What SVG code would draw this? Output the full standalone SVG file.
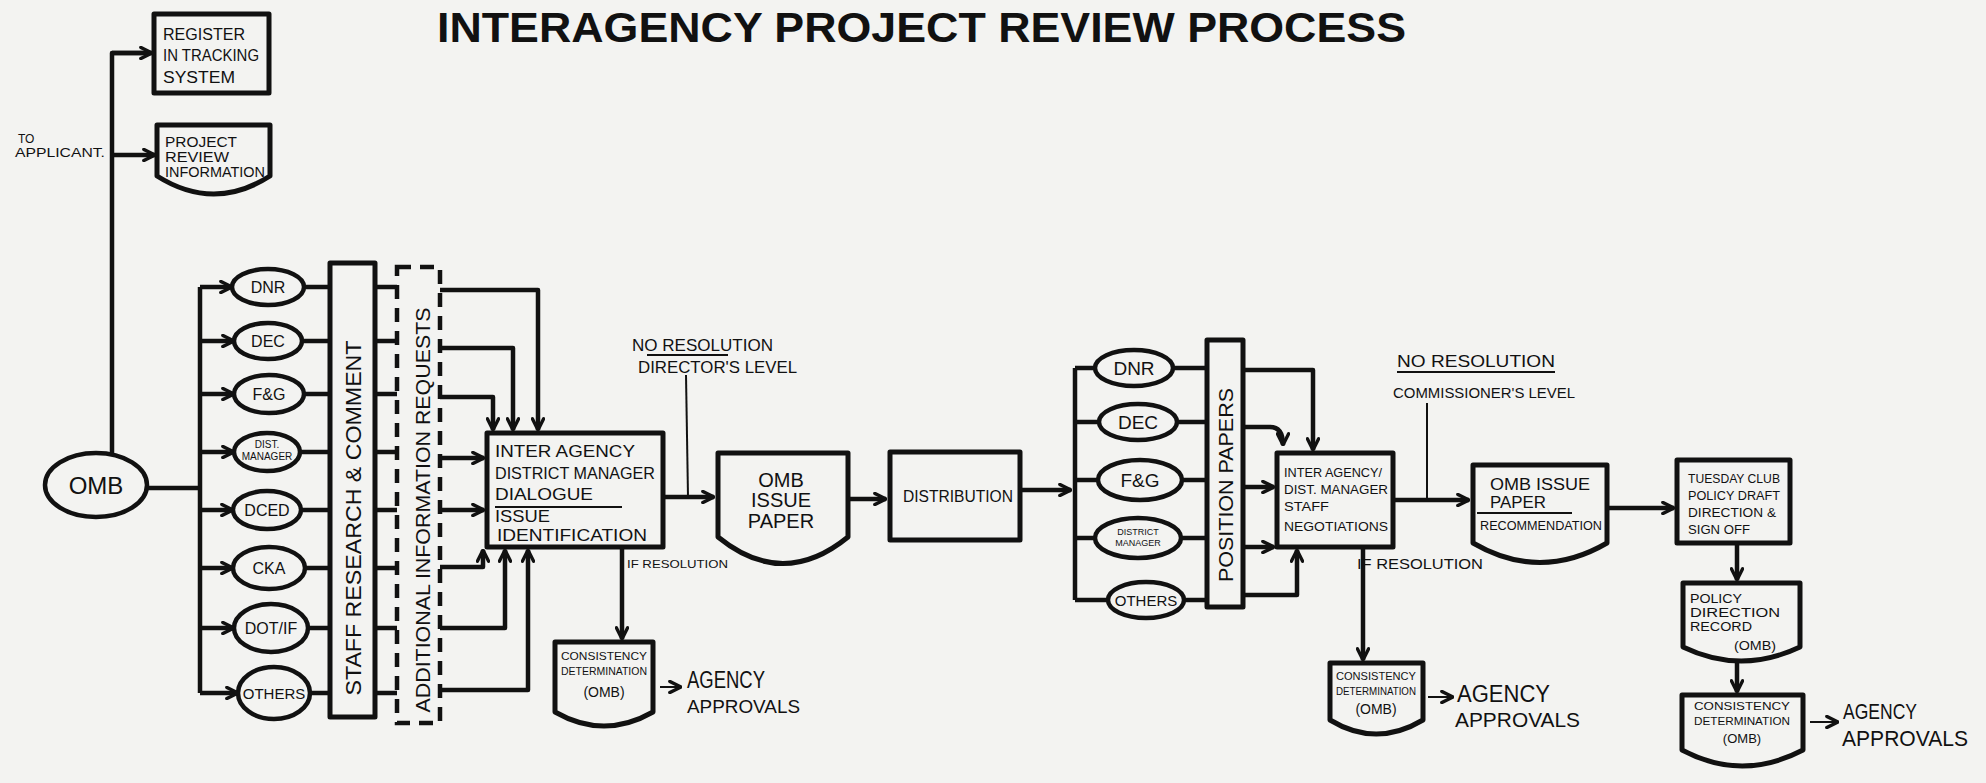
<svg xmlns="http://www.w3.org/2000/svg" width="1986" height="783" viewBox="0 0 1986 783">
<defs>
<marker id="ah" viewBox="0 0 10 10" refX="9" refY="5" markerWidth="14" markerHeight="14" markerUnits="userSpaceOnUse" orient="auto">
<path d="M1,1 L9,5 L1,9" fill="none" stroke="#111" stroke-width="2.4" stroke-linejoin="round" stroke-linecap="round"/>
</marker>
</defs>
<style>
.n{fill:none;stroke:#111;stroke-width:5;stroke-linejoin:round}
.e{fill:none;stroke:#111;stroke-width:4.5}
.d{fill:none;stroke:#111;stroke-width:4.5;stroke-dasharray:14 9}
.c{fill:none;stroke:#111;stroke-width:4.5;stroke-linejoin:round}
.a{marker-end:url(#ah)}
.t{fill:none;stroke:#111;stroke-width:2}
text{font-family:"Liberation Sans",Arial,sans-serif;fill:#111}
.m{text-anchor:middle}
</style>
<rect width="1986" height="783" fill="#f3f3f1"/>

<g id="title">
<text x="437" y="42" font-size="42" font-weight="bold" textLength="969" lengthAdjust="spacingAndGlyphs">INTERAGENCY  PROJECT  REVIEW  PROCESS</text>
</g>

<g id="to-applicant">
<text x="18" y="143" font-size="12">TO</text>
<text x="15" y="157" font-size="12" textLength="90" lengthAdjust="spacingAndGlyphs">APPLICANT.</text>
</g>

<g id="register">
<rect class="n" x="154" y="14" width="115" height="79"/>
<text x="163" y="40" font-size="16" textLength="82" lengthAdjust="spacingAndGlyphs">REGISTER</text>
<text x="163" y="61" font-size="16" textLength="96" lengthAdjust="spacingAndGlyphs">IN TRACKING</text>
<text x="163" y="83" font-size="16" textLength="72" lengthAdjust="spacingAndGlyphs">SYSTEM</text>
</g>

<g id="project-review">
<path class="n" d="M157,125 H270 V176 Q214,212 157,176 Z"/>
<text x="165" y="147" font-size="15" textLength="72" lengthAdjust="spacingAndGlyphs">PROJECT</text>
<text x="165" y="162" font-size="15" textLength="64" lengthAdjust="spacingAndGlyphs">REVIEW</text>
<text x="165" y="177" font-size="15" textLength="100" lengthAdjust="spacingAndGlyphs">INFORMATION</text>
</g>

<g id="omb">
<ellipse class="e" cx="96" cy="485" rx="51" ry="32"/>
<text class="m" x="96" y="494" font-size="24">OMB</text>
</g>

<g id="a1-dnr"><ellipse class="e" cx="268" cy="287" rx="36" ry="18"/><text class="m" x="268" y="293" font-size="16">DNR</text></g>
<g id="a1-dec"><ellipse class="e" cx="268" cy="341" rx="34" ry="18"/><text class="m" x="268" y="347" font-size="16">DEC</text></g>
<g id="a1-fg"><ellipse class="e" cx="269" cy="394" rx="35" ry="19"/><text class="m" x="269" y="400" font-size="16">F&amp;G</text></g>
<g id="a1-dist"><ellipse class="e" cx="267" cy="452" rx="33" ry="19"/><text class="m" x="267" y="448" font-size="10">DIST.</text><text class="m" x="267" y="460" font-size="10">MANAGER</text></g>
<g id="a1-dced"><ellipse class="e" cx="267" cy="510" rx="34" ry="19"/><text class="m" x="267" y="516" font-size="16">DCED</text></g>
<g id="a1-cka"><ellipse class="e" cx="269" cy="568" rx="36" ry="21"/><text class="m" x="269" y="574" font-size="16">CKA</text></g>
<g id="a1-dot"><ellipse class="e" cx="271" cy="628" rx="37" ry="24"/><text class="m" x="271" y="634" font-size="16">DOT/IF</text></g>
<g id="a1-others"><ellipse class="e" cx="274" cy="693" rx="36" ry="26"/><text class="m" x="274" y="699" font-size="15">OTHERS</text></g>

<g id="staff-research">
<rect class="n" x="330" y="263" width="45" height="454"/>
<text class="m" transform="translate(361,518) rotate(-90)" font-size="22" textLength="355" lengthAdjust="spacingAndGlyphs">STAFF RESEARCH &amp; COMMENT</text>
</g>

<g id="info-requests">
<rect class="d" x="397" y="267" width="43" height="456"/>
<text class="m" transform="translate(430,510) rotate(-90)" font-size="20" textLength="405" lengthAdjust="spacingAndGlyphs">ADDITIONAL  INFORMATION  REQUESTS</text>
</g>

<g id="dialogue">
<rect class="n" x="487" y="433" width="176" height="114"/>
<text x="495" y="457" font-size="17" textLength="140" lengthAdjust="spacingAndGlyphs">INTER AGENCY</text>
<text x="495" y="479" font-size="17" textLength="160" lengthAdjust="spacingAndGlyphs">DISTRICT MANAGER</text>
<text x="495" y="500" font-size="17" textLength="98" lengthAdjust="spacingAndGlyphs">DIALOGUE</text>
<path class="t" d="M495,507 H622"/>
<text x="495" y="522" font-size="17" textLength="55" lengthAdjust="spacingAndGlyphs">ISSUE</text>
<text x="497" y="541" font-size="17" textLength="150" lengthAdjust="spacingAndGlyphs">IDENTIFICATION</text>
</g>

<g id="no-res-1">
<text x="632" y="351" font-size="17" textLength="141" lengthAdjust="spacingAndGlyphs">NO RESOLUTION</text>
<path class="t" d="M647,355 H728"/>
<text x="638" y="373" font-size="17" textLength="159" lengthAdjust="spacingAndGlyphs">DIRECTOR'S LEVEL</text>
</g>

<g id="omb-paper-1">
<path class="n" d="M718,453 H848 V537 Q783,590 718,537 Z"/>
<text class="m" x="781" y="487" font-size="20">OMB</text>
<text class="m" x="781" y="507" font-size="20">ISSUE</text>
<text class="m" x="781" y="528" font-size="20">PAPER</text>
</g>

<g id="distribution">
<rect class="n" x="890" y="452" width="130" height="88"/>
<text x="903" y="502" font-size="16" textLength="110" lengthAdjust="spacingAndGlyphs">DISTRIBUTION</text>
</g>

<g id="if-res-1">
<text x="627" y="568" font-size="11" textLength="101" lengthAdjust="spacingAndGlyphs">IF RESOLUTION</text>
</g>

<g id="consistency-1">
<path class="n" d="M555,642 H653 V712 Q604,740 555,712 Z"/>
<text class="m" x="604" y="660" font-size="11" textLength="86" lengthAdjust="spacingAndGlyphs">CONSISTENCY</text>
<text class="m" x="604" y="675" font-size="11" textLength="86" lengthAdjust="spacingAndGlyphs">DETERMINATION</text>
<text class="m" x="604" y="697" font-size="14">(OMB)</text>
</g>
<g id="approvals-1">
<text x="687" y="688" font-size="23" textLength="78" lengthAdjust="spacingAndGlyphs">AGENCY</text>
<text x="687" y="713" font-size="18" textLength="113" lengthAdjust="spacingAndGlyphs">APPROVALS</text>
</g>

<g id="a2-dnr"><ellipse class="e" cx="1134" cy="368" rx="39" ry="18"/><text class="m" x="1134" y="375" font-size="19">DNR</text></g>
<g id="a2-dec"><ellipse class="e" cx="1138" cy="422" rx="39" ry="18"/><text class="m" x="1138" y="429" font-size="19">DEC</text></g>
<g id="a2-fg"><ellipse class="e" cx="1140" cy="480" rx="42" ry="20"/><text class="m" x="1140" y="487" font-size="19">F&amp;G</text></g>
<g id="a2-dist"><ellipse class="e" cx="1138" cy="538" rx="43" ry="20"/><text class="m" x="1138" y="535" font-size="9">DISTRICT</text><text class="m" x="1138" y="546" font-size="9">MANAGER</text></g>
<g id="a2-others"><ellipse class="e" cx="1146" cy="600" rx="38" ry="18"/><text class="m" x="1146" y="606" font-size="15">OTHERS</text></g>

<g id="position-papers">
<rect class="n" x="1207" y="340" width="36" height="267"/>
<text class="m" transform="translate(1233,485) rotate(-90)" font-size="20" textLength="194" lengthAdjust="spacingAndGlyphs">POSITION  PAPERS</text>
</g>

<g id="negotiations">
<rect class="n" x="1277" y="453" width="116" height="94"/>
<text x="1284" y="477" font-size="13" textLength="98" lengthAdjust="spacingAndGlyphs">INTER AGENCY/</text>
<text x="1284" y="494" font-size="13" textLength="104" lengthAdjust="spacingAndGlyphs">DIST. MANAGER</text>
<text x="1284" y="511" font-size="13" textLength="45" lengthAdjust="spacingAndGlyphs">STAFF</text>
<text x="1284" y="531" font-size="13" textLength="104" lengthAdjust="spacingAndGlyphs">NEGOTIATIONS</text>
</g>

<g id="no-res-2">
<text x="1397" y="367" font-size="17" textLength="158" lengthAdjust="spacingAndGlyphs">NO RESOLUTION</text>
<path class="t" d="M1397,372 H1555"/>
<text x="1393" y="398" font-size="15" textLength="182" lengthAdjust="spacingAndGlyphs">COMMISSIONER'S LEVEL</text>
</g>

<g id="if-res-2">
<text x="1357" y="569" font-size="14" textLength="126" lengthAdjust="spacingAndGlyphs">IF RESOLUTION</text>
</g>

<g id="consistency-2">
<path class="n" d="M1330,663 H1423 V720 Q1376,748 1330,720 Z"/>
<text class="m" x="1376" y="680" font-size="11" textLength="80" lengthAdjust="spacingAndGlyphs">CONSISTENCY</text>
<text class="m" x="1376" y="695" font-size="11" textLength="80" lengthAdjust="spacingAndGlyphs">DETERMINATION</text>
<text class="m" x="1376" y="714" font-size="14">(OMB)</text>
</g>
<g id="approvals-2">
<text x="1457" y="702" font-size="23" textLength="93" lengthAdjust="spacingAndGlyphs">AGENCY</text>
<text x="1455" y="727" font-size="20" textLength="125" lengthAdjust="spacingAndGlyphs">APPROVALS</text>
</g>

<g id="omb-paper-2">
<path class="n" d="M1473,465 H1607 V543 Q1540,582 1473,543 Z"/>
<text x="1490" y="490" font-size="16" textLength="100" lengthAdjust="spacingAndGlyphs">OMB ISSUE</text>
<text x="1490" y="508" font-size="16" textLength="56" lengthAdjust="spacingAndGlyphs">PAPER</text>
<path class="t" d="M1477,513 H1572"/>
<text x="1480" y="530" font-size="12" textLength="122" lengthAdjust="spacingAndGlyphs">RECOMMENDATION</text>
</g>

<g id="tuesday-club">
<rect class="n" x="1677" y="460" width="113" height="83"/>
<text x="1688" y="483" font-size="12" textLength="92" lengthAdjust="spacingAndGlyphs">TUESDAY CLUB</text>
<text x="1688" y="500" font-size="12" textLength="92" lengthAdjust="spacingAndGlyphs">POLICY DRAFT</text>
<text x="1688" y="517" font-size="12" textLength="88" lengthAdjust="spacingAndGlyphs">DIRECTION &amp;</text>
<text x="1688" y="534" font-size="12" textLength="62" lengthAdjust="spacingAndGlyphs">SIGN OFF</text>
</g>

<g id="policy-record">
<path class="n" d="M1683,583 H1800 V647 Q1741,675 1683,647 Z"/>
<text x="1690" y="603" font-size="12" textLength="52" lengthAdjust="spacingAndGlyphs">POLICY</text>
<text x="1690" y="617" font-size="12" textLength="90" lengthAdjust="spacingAndGlyphs">DIRECTION</text>
<text x="1690" y="631" font-size="12" textLength="62" lengthAdjust="spacingAndGlyphs">RECORD</text>
<text x="1734" y="650" font-size="12" textLength="42" lengthAdjust="spacingAndGlyphs">(OMB)</text>
</g>

<g id="consistency-3">
<path class="n" d="M1682,695 H1803 V750 Q1742,782 1682,750 Z"/>
<text class="m" x="1742" y="710" font-size="11" textLength="96" lengthAdjust="spacingAndGlyphs">CONSISTENCY</text>
<text class="m" x="1742" y="725" font-size="11" textLength="96" lengthAdjust="spacingAndGlyphs">DETERMINATION</text>
<text class="m" x="1742" y="743" font-size="13">(OMB)</text>
</g>
<g id="approvals-3">
<text x="1843" y="719" font-size="22" textLength="74" lengthAdjust="spacingAndGlyphs">AGENCY</text>
<text x="1842" y="746" font-size="22" textLength="126" lengthAdjust="spacingAndGlyphs">APPROVALS</text>
</g>

<g id="connectors">
<path class="c" d="M112,455 V53 H150"/>
<path class="c a" d="M112,53 H152"/>
<path class="c a" d="M112,155 H155"/>
<path class="c" d="M147,488 H200"/>
<path class="c" d="M200,287 V693"/>
<path class="c a" d="M200,287 H232"/>
<path class="c a" d="M200,341 H234"/>
<path class="c a" d="M200,394 H234"/>
<path class="c a" d="M200,452 H234"/>
<path class="c a" d="M200,510 H233"/>
<path class="c a" d="M200,568 H233"/>
<path class="c a" d="M200,628 H234"/>
<path class="c a" d="M200,693 H238"/>
<path class="c" d="M304,287 H330 M302,341 H330 M304,394 H330 M300,452 H330 M301,510 H330 M305,568 H330 M308,628 H330 M310,693 H330"/>
<path class="c" d="M375,287 H397 M375,341 H397 M375,394 H397 M375,452 H397 M375,510 H397 M375,568 H397 M375,628 H397 M375,693 H397"/>
<path class="c a" d="M440,290 H538 V430"/>
<path class="c a" d="M440,348 H513 V430"/>
<path class="c a" d="M440,397 H493 V430"/>
<path class="c a" d="M440,458 H484"/>
<path class="c a" d="M440,510 H484"/>
<path class="c a" d="M440,567 H483 V550"/>
<path class="c a" d="M440,628 H505 V550"/>
<path class="c a" d="M440,690 H528 V550"/>
<path class="c a" d="M663,497 H714"/>
<path class="t" d="M686,375 L688,497"/>
<path class="c a" d="M622,547 V639"/>
<path class="t a" d="M660,687 H681"/>
<path class="c a" d="M848,499 H886"/>
<path class="c a" d="M1020,490 H1071"/>
<path class="c" d="M1075,368 V600"/>
<path class="c" d="M1075,368 H1095 M1075,422 H1099 M1075,480 H1098 M1075,538 H1095 M1075,600 H1108"/>
<path class="c" d="M1173,368 H1207 M1177,422 H1207 M1182,480 H1207 M1181,538 H1207 M1184,600 H1207"/>
<path class="c a" d="M1243,370 H1313 V450"/>
<path class="c a" d="M1243,427 H1270 Q1283,427 1283,445"/>
<path class="c a" d="M1243,487 H1274"/>
<path class="c a" d="M1243,547 H1274"/>
<path class="c a" d="M1243,595 H1297 V550"/>
<path class="c a" d="M1393,500 H1469"/>
<path class="t" d="M1427,403 V500"/>
<path class="c a" d="M1363,547 V660"/>
<path class="t a" d="M1428,697 H1453"/>
<path class="c a" d="M1607,508 H1674"/>
<path class="c a" d="M1737,543 V580"/>
<path class="c a" d="M1737,660 V692"/>
<path class="t a" d="M1810,722 H1838"/>
</g>
</svg>
